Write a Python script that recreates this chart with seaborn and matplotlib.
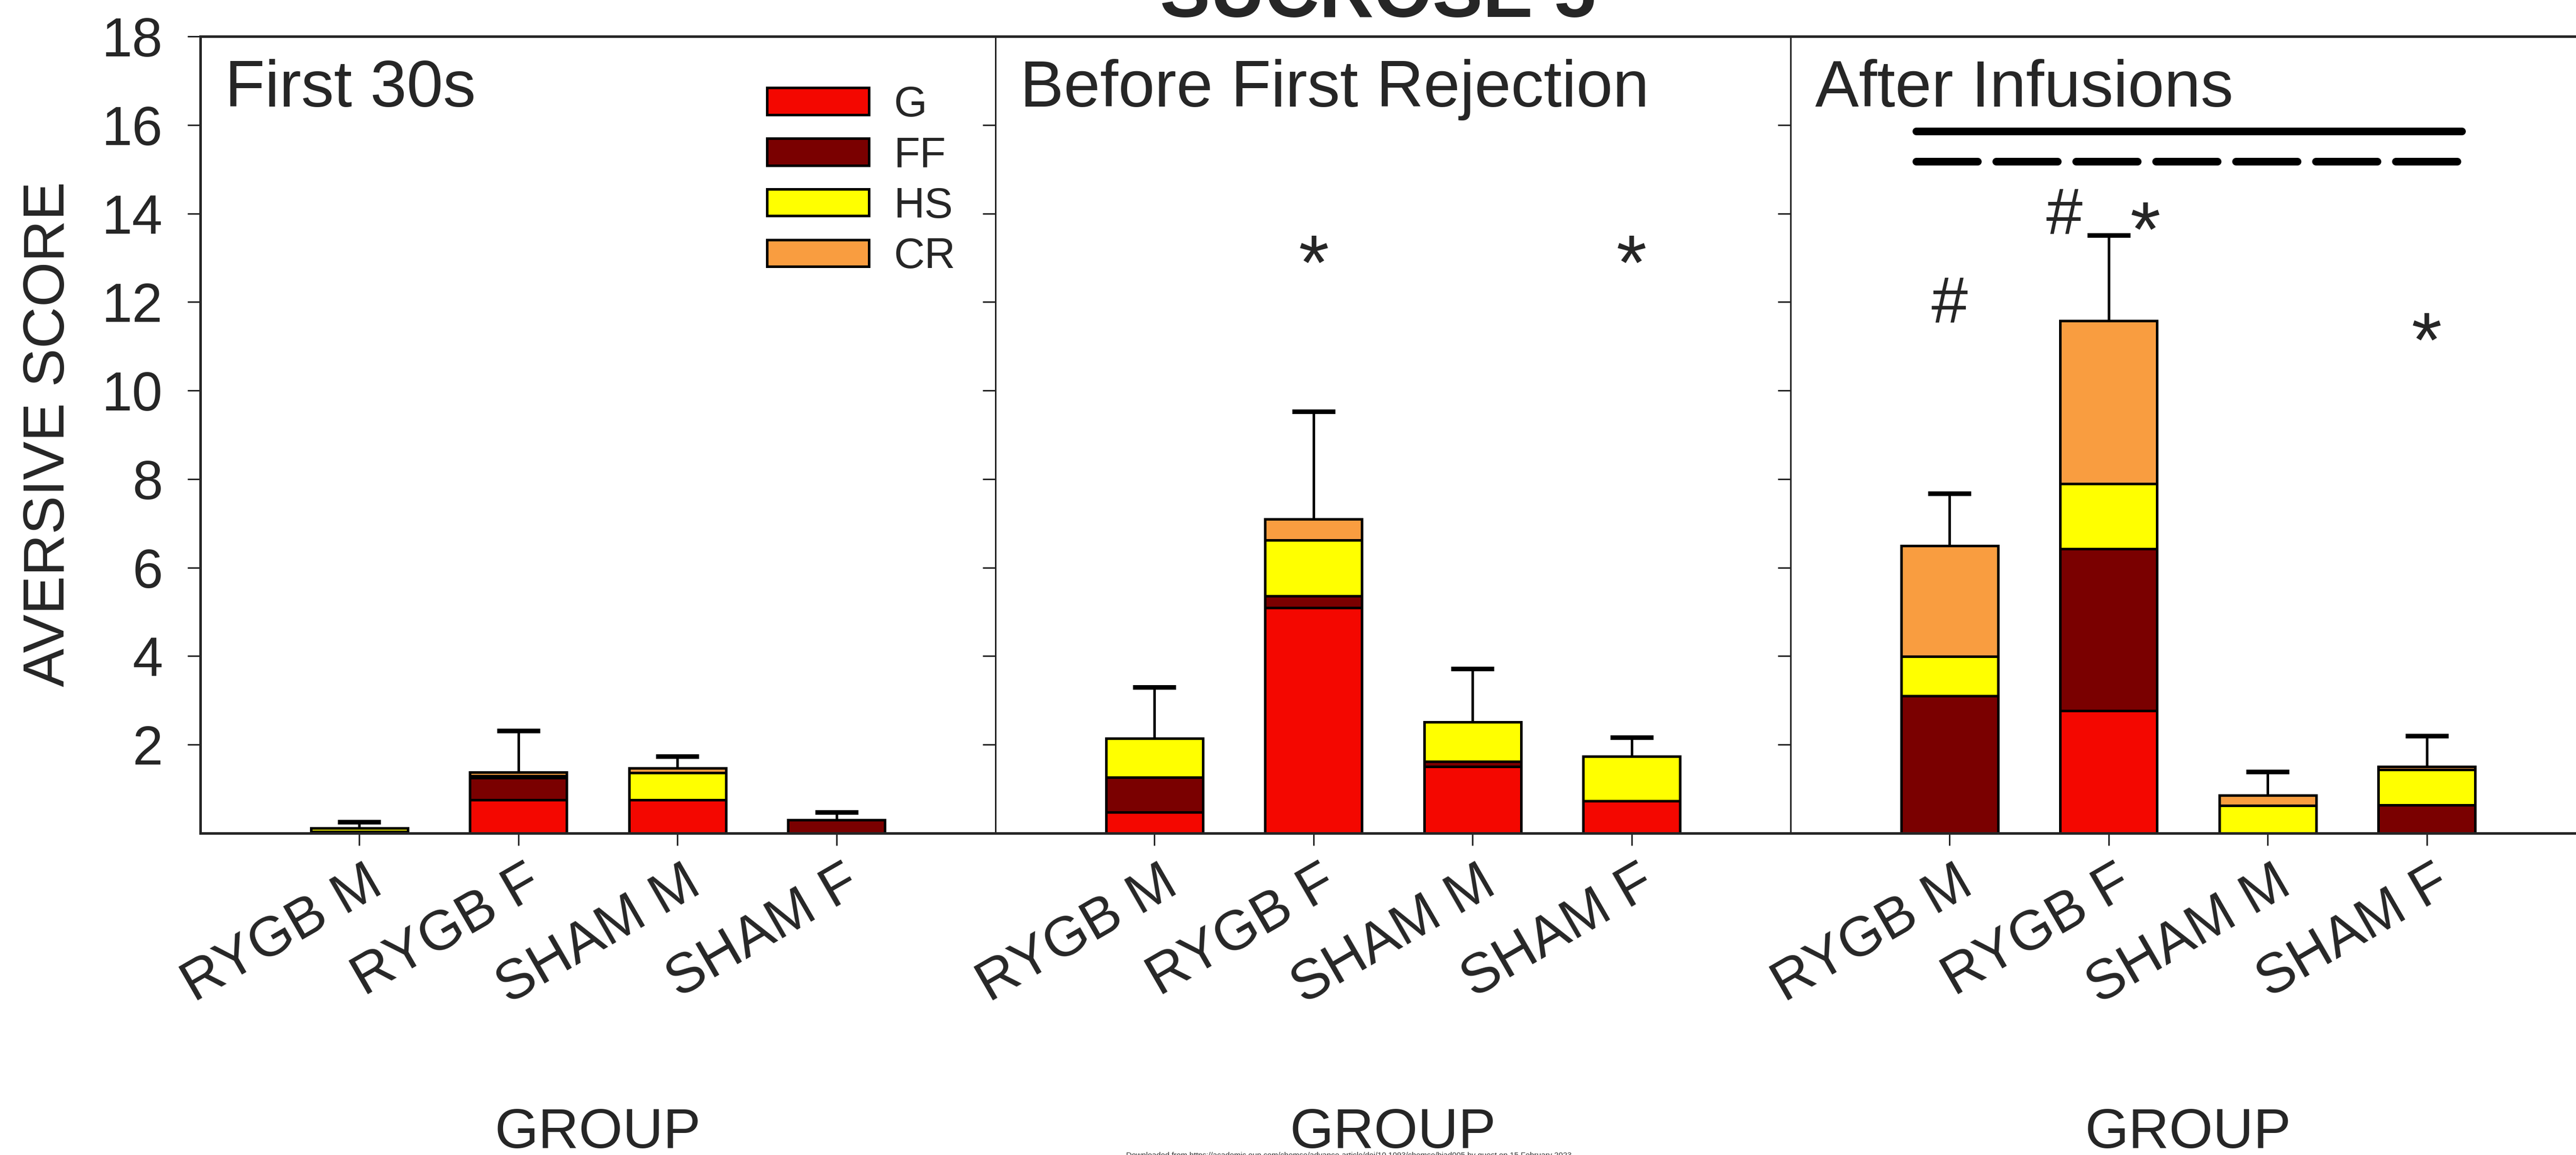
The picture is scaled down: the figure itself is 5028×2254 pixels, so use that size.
import numpy as np
import matplotlib
matplotlib.use('Agg')
import matplotlib.pyplot as plt
import matplotlib.patches as mpatches
from matplotlib.transforms import ScaledTranslation
import seaborn as sns

# ---- data ----
groups = ['RYGB M', 'RYGB F', 'SHAM M', 'SHAM F']
components = ['G', 'FF', 'HS', 'CR']
panel_titles = ['First 30s', 'Before First Rejection', 'After Infusions']

# First 30s
g_first = [0.00, 0.75, 0.75, 0.00]
ff_first = [0.04, 0.50, 0.00, 0.30]
hs_first = [0.08, 0.05, 0.62, 0.00]
cr_first = [0.00, 0.08, 0.10, 0.00]
sem_first = [0.14, 0.94, 0.27, 0.17]

# Before First Rejection
g_before = [0.48, 5.09, 1.51, 0.73]
ff_before = [0.78, 0.27, 0.11, 0.00]
hs_before = [0.88, 1.26, 0.89, 1.01]
cr_before = [0.00, 0.48, 0.00, 0.00]
sem_before = [1.16, 2.43, 1.20, 0.43]

# After Infusions
g_after = [0.00, 2.77, 0.00, 0.00]
ff_after = [3.10, 3.66, 0.00, 0.64]
hs_after = [0.89, 1.47, 0.62, 0.79]
cr_after = [2.50, 3.68, 0.24, 0.08]
sem_after = [1.19, 1.93, 0.53, 0.69]

# significance marks: panel index, x (category position), y (baseline), text
sig_panel = [1, 1, 2, 2, 2, 2]
sig_x = [1, 3, 0, 0.72, 1.23, 3]
sig_y = [12.29, 12.29, 11.53, 13.54, 13.04, 10.54]
sig_text = ['*', '*', '#', '#', '*', '*']

# comparison lines in the last panel
line_y = [15.86, 15.17]
line_style = ['-', (0, (8, 2.4))]

colors = ['#F40700', '#7A0000', '#FFFF00', '#F99D40']

# ---- style ----
sns.set_style('ticks')
plt.rcParams['font.family'] = ['Liberation Sans', 'DejaVu Sans']

W, H = 5028, 2254
fig = plt.figure(figsize=(W / 100, H / 100), dpi=100)


def pt(p):
    # pixels -> points at dpi 100
    return p * 72 / 100


panels = [
    (g_first, ff_first, hs_first, cr_first, sem_first),
    (g_before, ff_before, hs_before, cr_before, sem_before),
    (g_after, ff_after, hs_after, cr_after, sem_after),
]

axes = []
for i, (g, ff, hs, cr, sem) in enumerate(panels):
    ax = fig.add_axes([(391 + 1552 * i) / W, 1 - 1626 / H, 1552 / W, 1555 / H])
    axes.append(ax)
    cums = np.cumsum(np.array([g, ff, hs, cr]), axis=0)

    # stacked bars drawn as overlapping cumulative layers
    for k in reversed(range(4)):
        sns.barplot(x=groups, y=cums[k], color=colors[k], saturation=1,
                    width=0.61, edgecolor='black', linewidth=pt(5),
                    errorbar=None, ax=ax)

    eb = ax.errorbar(np.arange(4), cums[-1], yerr=[np.zeros(4), sem],
                     fmt='none', ecolor='black', elinewidth=pt(5),
                     capsize=pt(42), capthick=pt(9))
    eb[1][0].set_visible(False)

    ax.set_xlim(-1, 4)
    ax.set_ylim(0, 18)
    ax.set_yticks(np.arange(2, 19, 2))
    ax.tick_params(axis='y', direction='out', length=pt(25), width=pt(3),
                   labelsize=77, pad=pt(48), labelleft=(i == 0))
    ax.tick_params(axis='x', direction='out', length=pt(24), width=pt(3),
                   labelsize=79, pad=pt(22))
    ax.set_xticks(range(4))
    ax.set_xticklabels(groups, rotation=30, ha='right', va='top',
                       rotation_mode='anchor')
    for lab in ax.get_xticklabels():
        lab.set_transform(lab.get_transform() +
                          ScaledTranslation(11 / 100, 0, fig.dpi_scale_trans))
    ax.set_ylabel('')
    ax.set_xlabel('GROUP', fontsize=79)
    ax.xaxis.set_label_coords(0.5, (1626 - 2240) / 1555)
    ax.xaxis.label.set_va('baseline')

    for s in ['top', 'bottom', 'left']:
        ax.spines[s].set_linewidth(pt(5))
    ax.spines['right'].set_visible(False)
    if i > 0:
        ax.spines['left'].set_linewidth(pt(3))

    ax.text(48 / 1552, (1626 - 208) / 1555, panel_titles[i],
            transform=ax.transAxes, fontsize=92, va='baseline', ha='left')

# significance marks
for p, x, y, t in zip(sig_panel, sig_x, sig_y, sig_text):
    axes[p].text(x, y, t, fontsize=110 if t == '*' else 92,
                 ha='center', va='baseline')

for y, ls in zip(line_y, line_style):
    axes[2].plot([-0.21, 3.22], [y, y], color='black', lw=pt(15),
                 linestyle=ls, solid_capstyle='round', dash_capstyle='round')

# legend in the first panel
handles = [mpatches.Patch(facecolor=c, edgecolor='black', linewidth=pt(5), label=l)
           for c, l in zip(colors, components)]
axes[0].legend(handles=handles, loc='upper left',
               bbox_to_anchor=((1497 - 391) / 1552, (1626 - 166) / 1555),
               frameon=False, fontsize=60, handlelength=2.39, handleheight=0.59,
               handletextpad=0.58, labelspacing=0.25, borderpad=0,
               borderaxespad=0)

fig.text(96 / W, 1 - 847 / H, 'AVERSIVE SCORE', rotation=90, fontsize=81,
         ha='center', va='center')
fig.text(2690 / W, 1 - 33 / H, 'SUCROSE 5', fontsize=106, fontweight='bold',
         ha='center', va='baseline')
fig.text(2633 / W, 1 - 2248 / H,
         'Downloaded from https://academic.oup.com/chemse/advance-article/doi/10.1093/chemse/bjad005 by guest on 15 February 2023',
         fontsize=11, ha='center', va='top', color='#333333')

fig.savefig('out.png', dpi=100)
